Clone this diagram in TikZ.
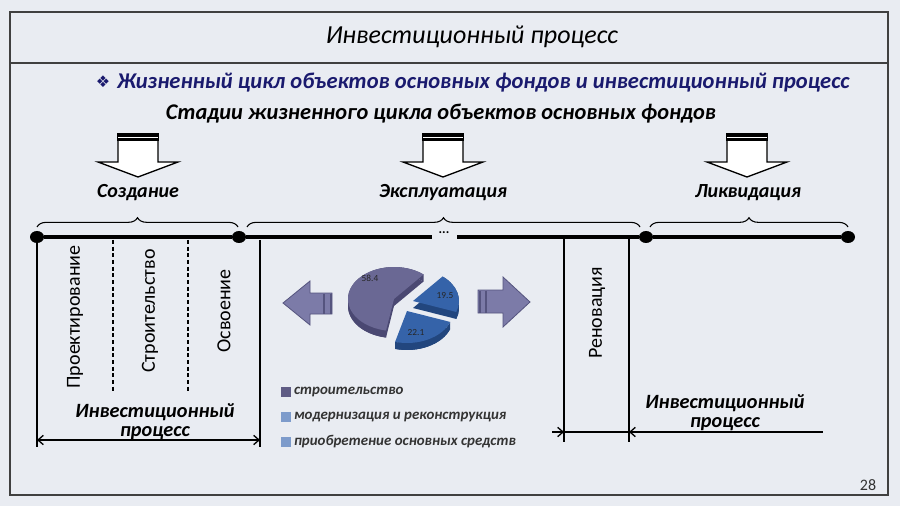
\documentclass[tikz,border=0pt]{standalone}
\usepackage{fontspec}
\setmainfont{Carlito}
\newfontfamily\symfont{DejaVu Sans}
\usetikzlibrary{arrows.meta,decorations.pathreplacing,shapes.geometric}
\definecolor{bg}{HTML}{E9ECF2}
\definecolor{navy}{HTML}{1A1A6E}
\definecolor{framec}{HTML}{404040}
\definecolor{pieP}{HTML}{6A6894}
\definecolor{piePd}{HTML}{4A4872}
\definecolor{pieB}{HTML}{3563A9}
\definecolor{pieBd}{HTML}{22467E}
\definecolor{arrP}{HTML}{7C7BA8}
\definecolor{arrPd}{HTML}{55547E}
\definecolor{legP}{HTML}{5F5C85}
\definecolor{legB}{HTML}{7D9BCB}
\tikzset{
  every node/.style={inner sep=0pt, outer sep=0pt},
  bigtitle/.style={font=\fontsize{19.5}{22}\selectfont\itshape},
  headline/.style={font=\fontsize{16.9}{18}\selectfont\bfseries\itshape, text=navy},
  stagehead/.style={font=\fontsize{16.8}{18}\selectfont\bfseries\itshape},
  stagelbl/.style={font=\fontsize{15}{17}\selectfont\bfseries\itshape},
  vlabel/.style={rotate=90, font=\fontsize{15}{17}\selectfont},
  ipro/.style={font=\fontsize{15.2}{14.5}\selectfont\bfseries\itshape, align=center},
  legtxt/.style={font=\fontsize{11.2}{12}\selectfont\bfseries\itshape, text=black!80, anchor=west},
  pielbl/.style={font=\fontsize{7}{8}\selectfont, text=black!85},
  timeline/.style={line width=3pt},
  tdot/.style={ellipse, fill=black, minimum width=10.5pt, minimum height=9pt},
  thinline/.style={line width=0.9pt},
  dashline/.style={line width=0.8pt, dash pattern=on 3pt off 2pt},
  bracestyle/.style={decorate, decoration={brace, amplitude=7pt}, line width=0.8pt},
  dimtip/.style={line width=1pt},
  barb/.tip={Straight Barb[length=4pt,width=7pt,line width=1pt]},
}
\begin{document}
\begin{tikzpicture}[x=0.75pt,y=-0.75pt]
\useasboundingbox (0,0) rectangle (900,506);
\fill[bg] (0,0) rectangle (900,506);
% frame
\draw[framec, line width=2pt] (10,12) rectangle (888,495);
\draw[framec, line width=1.8pt] (10,63) -- (888,63);
\node[bigtitle] (title) at (472,37) {Инвестиционный процесс};
\node[text=navy, font=\symfont\fontsize{12}{14}\selectfont] (bul) at (103,82) {❖};
\node[headline, anchor=west] (head) at (117,83) {Жизненный цикл объектов основных фондов и инвестиционный процесс};
\node[stagehead] (stages) at (441,114) {Стадии жизненного цикла объектов основных фондов};
% down block arrows
\foreach \cx in {138,443,747}{
  \draw[fill=white, line width=1pt] (\cx-20,140) -- (\cx-20,162) -- (\cx-40,162) -- (\cx,177) -- (\cx+40,162) -- (\cx+20,162) -- (\cx+20,140) -- cycle;
  \fill[black] (\cx-21,133.5) rectangle (\cx+21,141);
  \draw[white, line width=0.9pt] (\cx-20,137.5) -- (\cx+20,137.5);
}
\node[stagelbl] (s1) at (138,193) {Создание};
\node[stagelbl] (s2) at (443,193) {Эксплуатация};
\node[stagelbl] (s3) at (748,193) {Ликвидация};
% braces
\draw[bracestyle] (37,227) -- (238,227);
\draw[bracestyle] (247,227) -- (640,227);
\draw[bracestyle] (650,227) -- (848,227);
% timeline
\node[tdot] (d1) at (37,237) {};
\node[tdot] (d2) at (239,237) {};
\node[tdot] (d3) at (646,237) {};
\node[tdot] (d4) at (848,237) {};
\coordinate (ga) at (432,237);
\coordinate (gb) at (457,237);
\node[font=\fontsize{10}{10}\selectfont\bfseries] (ell) at (444,233) {...};
\draw[timeline] (d1) -- (d2) -- (ga);
\draw[timeline] (gb) -- (d3) -- (d4);
% vertical lines left
\draw[thinline] (37,237) -- (37,447);
\draw[dashline] (113,240) -- (113,393);
\draw[dashline] (188,240) -- (188,393);
\draw[thinline] (260,240) -- (260,447);
\node[vlabel] (v1) at (75,317) {Проектирование};
\node[vlabel] (v2) at (150,311) {Строительство};
\node[vlabel] (v3) at (224,311) {Освоение};
\node[ipro] (ip1) at (155,422) {Инвестиционный\\процесс};
\coordinate (a1) at (37,440);
\coordinate (a2) at (260,440);
\draw[dimtip, barb-barb] (a1) -- (a2);
% right part
\draw[thinline] (564,237) -- (564,442);
\draw[thinline] (629,237) -- (629,442);
\node[vlabel] (v4) at (597,313) {Реновация};
\node[ipro] (ip2) at (725,413) {Инвестиционный\\процесс};
\coordinate (b0) at (552,432);
\coordinate (b1) at (564,432);
\coordinate (b2) at (629,432);
\coordinate (b3) at (823,432);
\draw[dimtip, -barb] (b0) -- (b1);
\draw[dimtip] (b1) -- (b2);
\draw[dimtip, barb-] (b2) -- (b3);
% side arrows
\draw[fill=arrP, draw=arrPd, line width=0.6pt] (283,303) -- (310,281) -- (310,293) -- (332,293) -- (332,314) -- (310,314) -- (310,325) -- cycle;
\draw[arrPd, line width=1.5pt] (324,293.5) -- (324,313.5);
\draw[arrPd, line width=1.5pt] (330.5,293.5) -- (330.5,313.5);
\draw[fill=arrP, draw=arrPd, line width=0.6pt] (530,302) -- (503,277) -- (503,290) -- (478,290) -- (478,313) -- (503,313) -- (503,327) -- cycle;
\draw[arrPd, line width=1.5pt] (479.5,290.5) -- (479.5,312.5);
\draw[arrPd, line width=1.5pt] (486,290.5) -- (486,312.5);
% pie
\begin{scope}[shift={(403,303)}, yscale=-1]
  \foreach \a/\b/\dx/\dy/\c/\cd in {50/260/-9/4/pieP/piePd, 340/410/10/2/pieB/pieBd, 255/340/4/-8/pieB/pieBd}{
    \fill[\cd] (\dx,\dy-7) -- ++(\a:46 and 32) arc[start angle=\a, end angle=\b, x radius=46, y radius=32] -- cycle;
    \fill[\cd] (\dx,\dy-7) ++(\a:46 and 32) -- ++(0,7) arc[start angle=\a, end angle=\b, x radius=46, y radius=32] -- ++(0,-7) arc[start angle=\b, end angle=\a, x radius=46, y radius=32] -- cycle;
    \fill[\c] (\dx,\dy) -- ++(\a:46 and 32) arc[start angle=\a, end angle=\b, x radius=46, y radius=32] -- cycle;
  }
\end{scope}
\node[pielbl] (p1) at (370,278) {58.4};
\node[pielbl] (p2) at (445,296) {19.5};
\node[pielbl] (p3) at (416,333) {22.1};
% legend
\fill[legP] (281,387) rectangle (291,397);
\fill[legB] (281,412) rectangle (291,422);
\fill[legB] (281,437) rectangle (291,447);
\node[legtxt] (l1) at (294,392) {строительство};
\node[legtxt] (l2) at (294,417) {модернизация и реконструкция};
\node[legtxt] (l3) at (294,442) {приобретение основных средств};
\node[font=\fontsize{12}{14}\selectfont, text=black!80] (pg) at (868,485) {28};
\end{tikzpicture}
\end{document}
